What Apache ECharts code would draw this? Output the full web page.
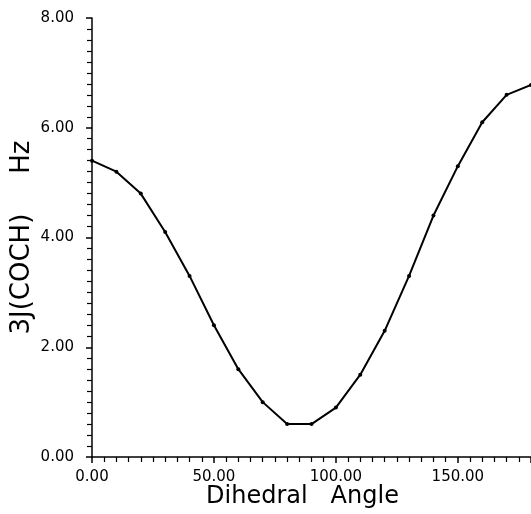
<!DOCTYPE html>
<html><head><meta charset="utf-8">
<script src="https://cdn.jsdelivr.net/npm/echarts@6/dist/echarts.min.js"></script>
<style>html,body{margin:0;padding:0;background:#fff}#c{width:531px;height:514px}</style>
</head><body><div id="c"></div>
<script>
const angles = [0,10,20,30,40,50,60,70,80,90,100,110,120,130,140,150,160,170,180];
const jValues = [5.4,5.2,4.8,4.1,3.3,2.4,1.6,1.0,0.6,0.6,0.9,1.5,2.3,3.3,4.4,5.3,6.1,6.6,6.78];
const xName = 'Dihedral   Angle';
const yNameMain = '3J(COCH)';
const yNameUnit = 'Hz';

const font = 'DejaVu Sans';
const chart = echarts.init(document.getElementById('c'), null, {renderer:'canvas'});
chart.setOption({
  backgroundColor:'#fff',
  animation:false,
  grid:{left:92,right:-1,top:18,bottom:52},
  xAxis:{
    type:'value',min:0,max:180,interval:50,
    axisLine:{lineStyle:{color:'#000',width:1.5}},
    axisTick:{show:true,length:6,lineStyle:{color:'#000',width:1.5}},
    minorTick:{show:true,splitNumber:10,length:5,lineStyle:{color:'#000',width:1.2}},
    splitLine:{show:false},
    axisLabel:{formatter:v=>v.toFixed(2),color:'#000',fontFamily:font,fontSize:15,margin:13,showMaxLabel:false},
    name:xName,nameLocation:'middle',nameGap:28,nameMoveOverlap:false,
    nameTextStyle:{color:'#000',fontFamily:font,fontSize:24,padding:[0,18,0,0]}
  },
  yAxis:{
    type:'value',min:0,max:8,interval:2,
    axisLine:{lineStyle:{color:'#000',width:1.5}},
    axisTick:{show:true,length:6,lineStyle:{color:'#000',width:1.5}},
    minorTick:{show:true,splitNumber:10,length:5,lineStyle:{color:'#000',width:1.2}},
    splitLine:{show:false},
    axisLabel:{formatter:v=>v.toFixed(2),color:'#000',fontFamily:font,fontSize:15,margin:18},
    name:'{a|'+yNameMain+'}{gap| }{a|'+yNameUnit+'}',
    nameLocation:'middle',nameGap:57,nameMoveOverlap:false,
    nameTextStyle:{color:'#000',fontFamily:font,fontSize:26,
      rich:{a:{fontFamily:font,fontSize:26,color:'#000'},gap:{width:40}}}
  },
  series:[{
    type:'line',
    data:angles.map((a,i)=>[a,jValues[i]]),
    symbol:'circle',symbolSize:4,
    lineStyle:{color:'#000',width:2},
    itemStyle:{color:'#000'},
    clip:true
  }]
});
</script></body></html>
